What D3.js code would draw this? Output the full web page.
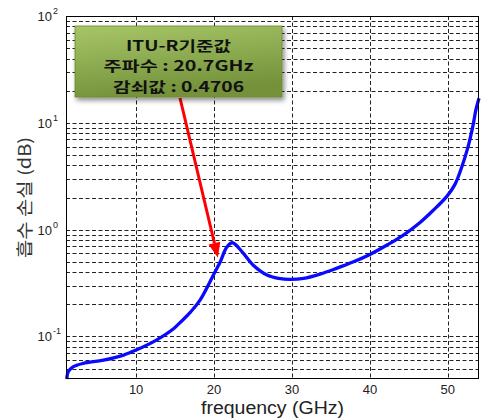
<!DOCTYPE html>
<html><head><meta charset="utf-8">
<script src="https://cdn.jsdelivr.net/npm/d3@7"></script>
<style>html,body{margin:0;padding:0;background:#fff;}</style>
</head><body>
<svg id="chart" width="485" height="418"></svg>
<script>
const freq = [1.1, 1.3, 1.9, 3.2, 5.8, 8.4, 10, 12.6, 14.8, 15.6, 17, 18.2, 20.1, 20.8, 21.6, 22.35, 23.6, 25.0, 26.8, 28.3, 29.7, 31.5, 33.6, 35.7, 37.9, 40.0, 42.2, 44.3, 46.4, 48.1, 49.9, 50.9, 51.8, 52.6, 53.2, 53.6, 54.0];
const loss = [0.040, 0.047, 0.052, 0.056, 0.060, 0.067, 0.0746, 0.0925, 0.118, 0.134, 0.17, 0.219, 0.40, 0.50, 0.68, 0.754, 0.62, 0.467, 0.376, 0.35, 0.342, 0.35, 0.384, 0.434, 0.50, 0.586, 0.718, 0.89, 1.16, 1.51, 2.06, 2.64, 3.88, 5.98, 9.2, 13.2, 17.0];
const xTicks = [10, 20, 30, 40, 50];
const yTickExp = [2, 1, 0, -1];
const annotLines = ["ITU-R기준값", "주파수 : 20.7GHz", "감쇠값 : 0.4706"];
const annotWidths = [105, 150, 131];
const annotPoint = {f: 20.7, v: 0.4706};

const svg = d3.select("#chart");
const L = 66, R = 479, T = 16, B = 379;
const x = d3.scaleLinear().domain([1, 54]).range([L, R]);
const y = d3.scaleLog().domain([0.04, 100]).range([B, T]);

const defs = svg.append("defs");
const grad = defs.append("linearGradient").attr("id","g").attr("x1",0).attr("y1",0).attr("x2",0.3).attr("y2",1);
grad.append("stop").attr("offset","0%").attr("stop-color","#a8c668");
grad.append("stop").attr("offset","100%").attr("stop-color","#74923a");
const f = defs.append("filter").attr("id","sh").attr("x","-10%").attr("y","-10%").attr("width","130%").attr("height","140%");
f.append("feDropShadow").attr("dx",2).attr("dy",3).attr("stdDeviation",2.5).attr("flood-color","#000").attr("flood-opacity",0.45);

// grid
const grid = svg.append("g").attr("stroke","#222").attr("stroke-width",1).attr("stroke-dasharray","4,2.5").attr("fill","none");
const hv = [];
for (let e = -2; e <= 1; e++) for (let k = 1; k <= 9; k++) { const v = k*Math.pow(10,e); if (v > 0.04 && v < 100) hv.push(v); }
grid.selectAll("line.h").data(hv).join("line").attr("x1",L).attr("x2",R)
  .attr("y1",d=>Math.round(y(d))+0.5).attr("y2",d=>Math.round(y(d))+0.5);
grid.selectAll("line.v").data(xTicks).join("line").attr("y1",T).attr("y2",B)
  .attr("x1",d=>Math.round(x(d))+0.5).attr("x2",d=>Math.round(x(d))+0.5);

// curve
const line = d3.line().x((d,i)=>x(freq[i])).y(d=>y(d)).curve(d3.curveCatmullRom.alpha(0.5));
svg.append("path").attr("d", line(loss)).attr("fill","none").attr("stroke","#0a0aff").attr("stroke-width",3.3).attr("stroke-linejoin","round");

// frame
svg.append("rect").attr("x",L+0.5).attr("y",T+0.5).attr("width",R-L-1).attr("height",B-T-1).attr("fill","none").attr("stroke","#000").attr("stroke-width",1);

// x tick labels
svg.append("g").selectAll("text").data(xTicks).join("text")
  .attr("x",d=>x(d)).attr("y",394).attr("text-anchor","middle")
  .attr("font-family","Liberation Sans, Arial, sans-serif").attr("font-size",13).attr("fill","#222")
  .text(d=>d);
// y tick labels
svg.append("g").selectAll("text").data(yTickExp).join("text")
  .attr("x",52).attr("y",d=>y(Math.pow(10,d))+5).attr("text-anchor","end")
  .attr("font-family","Liberation Sans, Arial, sans-serif").attr("font-size",13).attr("fill","#222")
  .text("10");
svg.append("g").selectAll("text").data(yTickExp).join("text")
  .attr("x",53).attr("y",d=>y(Math.pow(10,d))-2)
  .attr("font-family","Liberation Sans, Arial, sans-serif").attr("font-size",9).attr("fill","#222")
  .text(d=>d);

// axis labels
svg.append("text").attr("x",(L+R)/2).attr("y",413.5).attr("text-anchor","middle")
  .attr("font-family","Liberation Sans, Arial, sans-serif").attr("font-size",18).attr("fill","#222")
  .attr("textLength",143).attr("lengthAdjust","spacingAndGlyphs")
  .text("frequency (GHz)");
svg.append("text").attr("transform",`translate(31,${(T+B)/2}) rotate(-90)`).attr("text-anchor","middle")
  .attr("font-family","Noto Sans CJK KR, sans-serif").attr("font-size",17).attr("fill","#333")
  .attr("textLength",121).attr("lengthAdjust","spacingAndGlyphs")
  .text("흡수 손실 (dB)");

// annotation arrow
const tx = x(annotPoint.f), ty = y(annotPoint.v);
const sx = 180, sy = 98;
const ang = Math.atan2(ty - sy, tx - sx);
const tipX = tx - 7*Math.cos(ang), tipY = ty - 7*Math.sin(ang);
const hl = 15, hw = 6;
const bx = tipX - hl*Math.cos(ang), by = tipY - hl*Math.sin(ang);
svg.append("line").attr("x1",sx).attr("y1",sy).attr("x2",bx).attr("y2",by).attr("stroke","#f00").attr("stroke-width",3);
svg.append("path").attr("fill","#f00")
  .attr("d",`M${tipX},${tipY}L${bx+hw*Math.sin(ang)},${by-hw*Math.cos(ang)}L${bx-hw*Math.sin(ang)},${by+hw*Math.cos(ang)}Z`);

// annotation box
svg.append("rect").attr("x",75).attr("y",26).attr("width",207).attr("height",71)
  .attr("fill","url(#g)").attr("stroke","#6a8a30").attr("stroke-width",0.8).attr("filter","url(#sh)");
const at = svg.append("g").attr("font-family","Noto Sans CJK KR, sans-serif").attr("font-weight","bold").attr("font-size",14).attr("fill","#111").attr("text-anchor","middle");
at.selectAll("text").data(annotLines).join("text")
  .attr("x",178.5).attr("y",(d,i)=>50.5+i*20.5)
  .attr("textLength",(d,i)=>annotWidths[i]).attr("lengthAdjust","spacingAndGlyphs")
  .text(d=>d);
</script>
</body></html>
